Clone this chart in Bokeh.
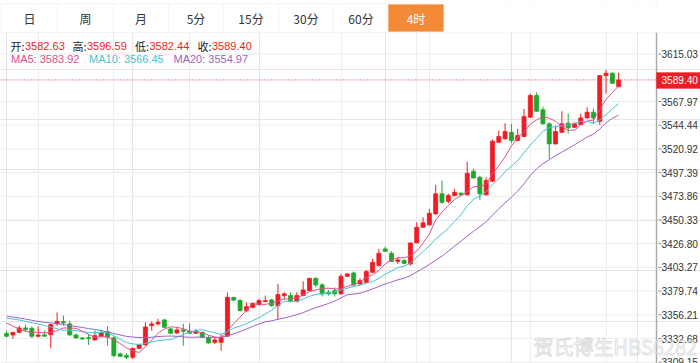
import pandas as pd
from bokeh.plotting import figure
from bokeh.models import (Range1d, FixedTicker, Span, Label,
                          BoxAnnotation, ColumnDataSource, Grid)
from bokeh.embed import file_html
from bokeh.resources import INLINE

# ---------------- data (4-hour candles) ----------------
open_ = [3337.8, 3336.2, 3338.8, 3343.2, 3342.8, 3334.9, 3336.2, 3336.5, 3347.2, 3349.4,
         3347.2, 3336.2, 3333.3, 3333.6, 3331.3, 3334.9, 3339.5, 3333.3, 3317.4, 3315.7,
         3314.0, 3322.9, 3326.3, 3345.5, 3347.2, 3351.1, 3342.2, 3338.2, 3341.2, 3339.8,
         3337.8, 3338.8, 3333.3, 3328.9, 3328.9, 3335.0, 3373.3, 3370.3, 3360.4, 3363.6,
         3366.3, 3369.3, 3371.0, 3365.3, 3375.3, 3375.3, 3369.6, 3375.3, 3380.2, 3392.4,
         3385.9, 3378.6, 3380.2, 3377.0, 3394.4, 3397.8, 3386.9, 3388.5, 3398.4, 3405.1,
         3421.6, 3417.3, 3409.3, 3410.0, 3406.7, 3427.6, 3443.1, 3445.5, 3456.4, 3476.3,
         3468.9, 3474.6, 3476.8, 3475.3, 3498.7, 3492.7, 3475.3, 3488.8, 3527.5, 3530.9,
         3537.4, 3529.2, 3533.2, 3552.3, 3573.9, 3559.7, 3545.8, 3525.9, 3537.4, 3546.4,
         3542.4, 3545.1, 3551.7, 3557.3, 3548.3, 3593.7, 3596.0, 3582.63]
high = [3340.5, 3339.0, 3345.5, 3346.5, 3344.8, 3344.8, 3340.5, 3347.0, 3358.7, 3355.4,
        3350.4, 3337.5, 3334.0, 3337.2, 3340.5, 3341.5, 3344.8, 3335.5, 3318.7, 3318.0,
        3323.6, 3327.6, 3348.8, 3349.7, 3352.2, 3352.2, 3343.5, 3343.8, 3347.2, 3347.8,
        3342.2, 3339.8, 3335.5, 3334.0, 3337.2, 3378.3, 3374.3, 3372.0, 3368.6, 3368.6,
        3372.0, 3375.3, 3372.0, 3386.9, 3378.6, 3378.6, 3378.6, 3389.5, 3393.1, 3393.4,
        3387.5, 3381.0, 3383.5, 3396.8, 3397.4, 3399.1, 3392.4, 3400.8, 3411.7, 3421.6,
        3423.9, 3419.3, 3413.3, 3411.7, 3427.9, 3448.1, 3453.0, 3461.4, 3485.2, 3489.5,
        3476.3, 3481.2, 3478.0, 3508.3, 3501.1, 3494.4, 3492.7, 3530.2, 3539.1, 3546.4,
        3545.8, 3540.8, 3560.7, 3575.6, 3577.1, 3563.0, 3547.1, 3544.1, 3558.3, 3556.0,
        3547.1, 3556.0, 3562.2, 3560.9, 3594.2, 3599.4, 3597.0, 3596.59]
low = [3333.9, 3332.3, 3337.8, 3339.5, 3333.3, 3333.9, 3334.5, 3322.9, 3345.5, 3345.5,
       3335.5, 3332.6, 3331.6, 3326.3, 3330.6, 3334.0, 3325.6, 3314.0, 3314.2, 3312.0,
       3312.4, 3322.0, 3326.1, 3340.5, 3345.5, 3343.5, 3337.0, 3337.2, 3325.6, 3337.2,
       3337.2, 3333.3, 3327.6, 3327.3, 3320.7, 3334.5, 3369.8, 3359.4, 3358.7, 3362.8,
       3365.3, 3368.6, 3364.3, 3351.4, 3372.0, 3368.6, 3368.6, 3374.8, 3379.7, 3383.5,
       3374.6, 3375.3, 3374.3, 3376.3, 3394.1, 3385.2, 3385.2, 3387.9, 3397.8, 3404.1,
       3419.0, 3408.7, 3406.7, 3406.7, 3405.1, 3427.4, 3442.8, 3444.8, 3455.7, 3466.3,
       3466.9, 3473.9, 3474.6, 3474.6, 3491.4, 3470.3, 3474.6, 3488.0, 3526.7, 3530.2,
       3526.5, 3528.7, 3532.7, 3552.0, 3557.5, 3545.1, 3511.0, 3525.2, 3536.6, 3536.1,
       3541.6, 3544.6, 3551.0, 3545.8, 3544.8, 3575.8, 3585.3, 3582.44]
close = [3334.9, 3338.8, 3343.2, 3341.5, 3334.9, 3336.2, 3335.0, 3346.5, 3349.7, 3348.2,
         3336.2, 3333.3, 3332.3, 3332.6, 3335.5, 3338.2, 3333.9, 3315.7, 3315.0, 3314.0,
         3322.9, 3326.6, 3344.2, 3347.2, 3348.8, 3343.8, 3337.8, 3341.2, 3339.8, 3337.8,
         3339.8, 3333.9, 3328.3, 3331.3, 3333.9, 3373.6, 3370.8, 3360.4, 3364.3, 3367.6,
         3370.3, 3370.3, 3365.3, 3376.3, 3377.0, 3370.3, 3375.3, 3380.9, 3392.4, 3385.9,
         3377.0, 3377.0, 3377.0, 3394.4, 3396.8, 3385.9, 3390.2, 3399.1, 3408.3, 3417.3,
         3419.3, 3409.3, 3410.7, 3407.3, 3427.6, 3443.1, 3447.5, 3457.0, 3476.3, 3467.9,
         3474.6, 3477.8, 3475.3, 3496.7, 3492.1, 3476.3, 3489.5, 3528.5, 3533.2, 3538.1,
         3529.2, 3534.1, 3553.0, 3573.9, 3558.3, 3545.8, 3525.9, 3538.1, 3545.8, 3541.8,
         3545.8, 3551.7, 3557.3, 3551.7, 3593.7, 3596.0, 3586.1, 3589.40]

# moving-average values at the left edge (window not complete inside the chart)
ma5_head = [3348.0, 3345.0, 3342.0, 3340.0]
ma10_head = [3353.0, 3352.0, 3351.0, 3349.8, 3348.4, 3347.0, 3345.5, 3344.0, 3342.4]
ma20_head = [3355.0, 3354.0, 3353.0, 3352.0, 3350.8, 3349.6, 3348.8, 3348.2, 3347.5,
             3346.6, 3345.6, 3344.6, 3343.6, 3342.6, 3341.6, 3340.5, 3339.2, 3337.6, 3336.2]
ma_header = [("MA5", 3583.92), ("MA10", 3566.45), ("MA20", 3554.97)]

tick_values = [3309.15, 3332.68, 3356.21, 3379.74, 3403.27, 3426.80, 3450.33, 3473.86,
               3497.39, 3520.92, 3544.44, 3567.97, 3615.03]
tick_labels = ["3309.15", "3332.68", "3356.21", "3379.74", "3403.27", "3426.80",
               "3450.33", "3473.86", "3497.39", "3520.92", "3544.44", "3567.97", "3615.03"]
day_breaks = [5, 17, 29, 53, 65, 67, 83, 95]
tabs = ["日", "周", "月", "5分", "15分", "30分", "60分", "4时"]
active_tab = "4时"
last_price = close[-1]

# ---------------- styles / layout ----------------
RED = "#EE1D23"
GREEN = "#1FA82B"
C5, C10, C20 = "#E2508A", "#45C3D5", "#A35FC9"
ORANGE = "#F28A38"
GRID = "#EDEDED"
CJK = "Noto Sans CJK SC"
LAT = "Liberation Sans"
AX_FS = "10.1px"

W, H = 700, 363
BAR0_PX = 6.1            # pixel x of the first candle
STEP = 6.31              # pixels per candle
AXIS_PX = 656            # pixel x of the price axis line
x_start = -BAR0_PX / STEP
x_end = (W - BAR0_PX) / STEP
axis_x = (AXIS_PX - BAR0_PX) / STEP


def sy(page_y):          # pixel y from top -> screen units measured from frame bottom
    return H - page_y


n = len(close)
idx = list(range(n))
s = pd.Series(close)
ma5 = s.rolling(5).mean().tolist()
ma10 = s.rolling(10).mean().tolist()
ma20 = s.rolling(20).mean().tolist()
ma5[:len(ma5_head)] = ma5_head
ma10[:len(ma10_head)] = ma10_head
ma20[:len(ma20_head)] = ma20_head

colors = [RED if c >= o else GREEN for o, c in zip(open_, close)]
src = ColumnDataSource(dict(
    x=idx, high=high, low=low,
    top=[max(o, c) for o, c in zip(open_, close)],
    bottom=[min(o, c) for o, c in zip(open_, close)],
    color=colors))

p = figure(width=W, height=H, output_backend="svg", toolbar_location=None,
           x_range=Range1d(x_start, x_end), y_range=Range1d(3307.87, 3668.24),
           x_axis_location=None, y_axis_location=None,
           min_border_left=0, min_border_top=0, min_border_bottom=0,
           min_border_right=0)
p.outline_line_color = None
p.background_fill_color = "white"
p.border_fill_color = "white"

# grid
p.add_layout(Grid(dimension=0, ticker=FixedTicker(ticks=day_breaks),
                  grid_line_color=GRID, grid_line_width=1))
p.segment(x0=[x_start] * len(tick_values), x1=[axis_x] * len(tick_values),
          y0=tick_values, y1=tick_values, line_color=GRID, line_width=1)

# price axis (right)
p.add_layout(Span(location=axis_x, dimension="height", line_color="#ABABAB",
                  line_width=1.5))
p.segment(x0=[axis_x + 2 / STEP] * len(tick_values),
          x1=[axis_x + 5 / STEP] * len(tick_values),
          y0=tick_values, y1=tick_values, line_color="#8A8A8A", line_width=1)
for v, t in zip(tick_values, tick_labels):
    p.add_layout(Label(x=AXIS_PX + 5, y=v, x_units="screen", y_units="data",
                       text=t, text_font=LAT, text_font_size=AX_FS,
                       text_color="#333333", text_baseline="middle",
                       text_align="left"))

# candles
p.segment(x0="x", y0="low", x1="x", y1="high", line_color="color",
          line_width=1, source=src)
p.vbar(x="x", top="top", bottom="bottom", width=0.64, fill_color="color",
       line_color="color", line_width=0.8, source=src)

# moving averages
p.line(idx, ma5, line_color=C5, line_width=1)
p.line(idx, ma10, line_color=C10, line_width=1)
p.line(idx, ma20, line_color=C20, line_width=1)

# last price line and box
p.add_layout(Span(location=last_price, dimension="width", line_color=RED,
                  line_dash="1 2", line_width=1))
p.add_layout(BoxAnnotation(left=AXIS_PX, right=W, top=sy(72), bottom=sy(88),
                           left_units="screen", right_units="screen",
                           top_units="screen", bottom_units="screen",
                           fill_color=RED, fill_alpha=1.0, line_color=RED))
p.add_layout(Label(x=AXIS_PX + 5, y=last_price, x_units="screen", y_units="data",
                   text=f"{last_price:.2f}", text_color="white",
                   text_font=LAT, text_font_size=AX_FS,
                   text_baseline="middle", text_align="left"))

# watermark
p.add_layout(Label(x=533, y=sy(346), x_units="screen", y_units="screen",
                   text="贺氏博生HBS6282", text_font=CJK, text_font_size="20px",
                   text_color="white", text_alpha=0.55, text_outline_color="#C4C4C4",
                   text_baseline="middle"))

# tab bar
edges = [1, 57, 113, 168, 223, 278, 333, 388, 443]
p.add_layout(BoxAnnotation(left=0, right=W, top=sy(3), bottom=sy(32),
                           left_units="screen", right_units="screen",
                           top_units="screen", bottom_units="screen",
                           fill_color="white", fill_alpha=1.0,
                           line_color="#E3E3E3", line_width=1))
p.add_layout(BoxAnnotation(left=0, right=W, top=H, bottom=sy(3),
                           left_units="screen", right_units="screen",
                           top_units="screen", bottom_units="screen",
                           fill_color="white", fill_alpha=1.0, line_alpha=0))
for i, t in enumerate(tabs):
    l, r = edges[i], edges[i + 1]
    act = (t == active_tab)
    p.add_layout(BoxAnnotation(left=l, right=r,
                               top=sy(4 if act else 3), bottom=sy(31 if act else 32),
                               left_units="screen", right_units="screen",
                               top_units="screen", bottom_units="screen",
                               fill_color=ORANGE if act else "white", fill_alpha=1.0,
                               line_color=ORANGE if act else "#E3E3E3", line_width=1))
    p.add_layout(Label(x=(l + r) / 2, y=sy(17.5), x_units="screen", y_units="screen",
                       text=t, text_font=CJK, text_font_size="12px",
                       text_color="white" if act else "#333333",
                       text_align="center", text_baseline="middle"))

# header: OHLC of the last bar
ohlc = [("开", open_[-1]), ("高", high[-1]), ("低", low[-1]), ("收", close[-1])]
xs_lab = [10, 72, 134.5, 197]
for (name, v), x0 in zip(ohlc, xs_lab):
    p.add_layout(Label(x=x0, y=sy(45), x_units="screen", y_units="screen",
                       text=name + ":", text_font=CJK, text_font_size="11px",
                       text_color="#222222", text_baseline="middle"))
    p.add_layout(Label(x=x0 + 14.5, y=sy(45), x_units="screen", y_units="screen",
                       text=f"{v:.2f}", text_font=LAT, text_font_size="11px",
                       text_color=RED, text_baseline="middle"))
for (name, v), x0, c in zip(ma_header, [10.5, 88.6, 173], [C5, C10, C20]):
    p.add_layout(Label(x=x0, y=sy(58.5), x_units="screen", y_units="screen",
                       text=f"{name}: {v:.2f}", text_font=LAT, text_font_size="11px",
                       text_color=c, text_baseline="middle"))

open("out.html", "w").write(file_html(p, INLINE))
